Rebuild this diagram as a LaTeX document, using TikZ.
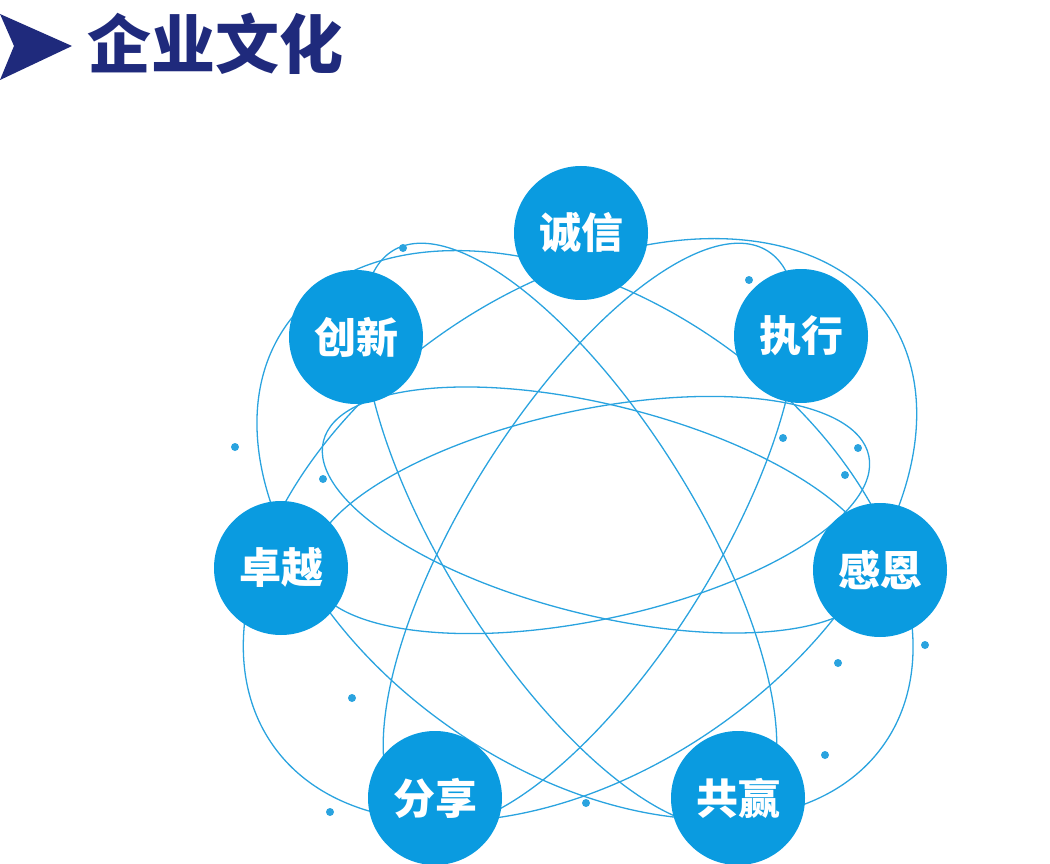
\documentclass[tikz,border=0pt]{standalone}
\usepackage{fontspec}
\newfontfamily\cjk{Noto Sans CJK SC}
\definecolor{navy}{HTML}{1F2A7C}
\definecolor{skyblue}{HTML}{0A9BE0}
\definecolor{orbit}{HTML}{2AA3DF}
\begin{document}
\begin{tikzpicture}[x=1pt, y=-1pt,
  value node/.style={circle, fill=skyblue, minimum size=134pt, inner sep=0pt, text=white, font=\cjk\bfseries\fontsize{42}{42}\selectfont},
  orbit line/.style={draw=orbit, line width=1.3pt},
  dot/.style={circle, fill=orbit, inner sep=0pt, minimum size=8pt}]

			\useasboundingbox (0,0) rectangle (1050,864);

			% title
			\fill[navy] (0,14) -- (72,46) -- (0,80) -- (14,46) -- cycle;
			\node[anchor=west, text=navy, font=\cjk\bfseries\fontsize{64}{64}\selectfont] (title) at (84,44) {企业文化};

			% orbits
			\draw[orbit line, rotate around={-14:(600,510)}] (600,510) ellipse (285pt and 105pt);
			\draw[orbit line, rotate around={12:(590,515)}] (590,515) ellipse (285pt and 105pt);
			\draw[orbit line, rotate around={58:(590,535)}] (590,535) ellipse (335pt and 125pt);
			\draw[orbit line, rotate around={-58:(570,535)}] (570,535) ellipse (335pt and 125pt);
			\draw[orbit line, rotate around={35:(580,530)}] (580,530) ellipse (375pt and 240pt);
			\draw[orbit line, rotate around={-35:(585,535)}] (585,535) ellipse (365pt and 235pt);

			% dots
			\foreach \px/\py in {403/248, 749/280, 235/447, 323/479, 783/438, 858/448, 845/475, 838/663, 925/645, 825/755, 352/698, 586/803, 330/812}
				\node[dot] at (\px,\py) {};

			% values
			\node[value node] (chengxin) at (581,233) {诚信};
			\node[value node] (zhixing) at (801,336) {执行};
			\node[value node] (ganen) at (880,570) {感恩};
			\node[value node] (gongying) at (738,798) {共赢};
			\node[value node] (fenxiang) at (435,798) {分享};
			\node[value node] (zhuoyue) at (281,568) {卓越};
			\node[value node] (chuangxin) at (356,337) {创新};

		\end{tikzpicture}
\end{document}
